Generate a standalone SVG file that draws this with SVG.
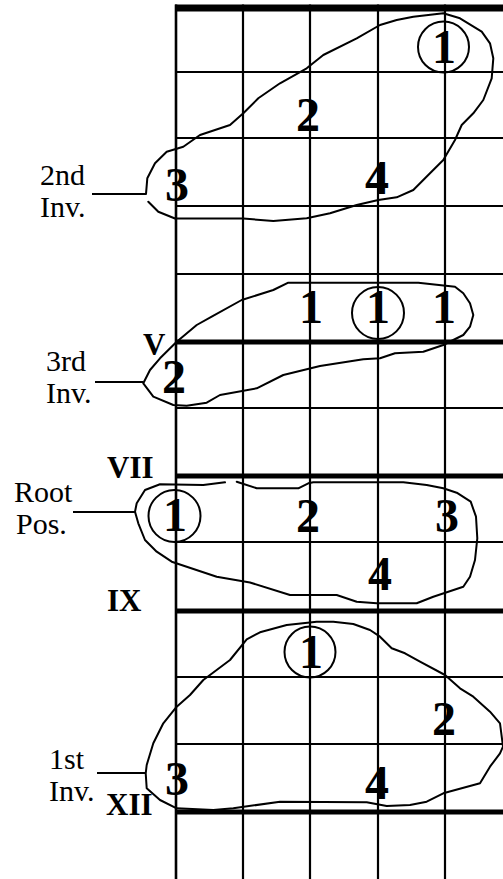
<svg xmlns="http://www.w3.org/2000/svg" width="503" height="879" viewBox="0 0 503 879">
<style>
.str{stroke:#000;stroke-width:2.2}
.fret{stroke:#000;stroke-width:2}
.thick{stroke:#000;stroke-width:5}
.blob{fill:none;stroke:#000;stroke-width:2;stroke-linejoin:round;stroke-linecap:round}
.lead{stroke:#000;stroke-width:2}
.ring{fill:none;stroke:#000;stroke-width:2}
.num{font-family:"Liberation Serif","Times New Roman",serif;font-weight:bold;font-size:48px;text-anchor:middle}
.rom{font-family:"Liberation Serif","Times New Roman",serif;font-weight:bold;font-size:31px}
.lab{font-family:"Liberation Serif","Times New Roman",serif;font-size:30px}
</style>
<rect width="503" height="879" fill="#fff"/>
<g id="fretboard">
<line class="fret" x1="176" y1="72" x2="503" y2="72"/>
<line class="fret" x1="176" y1="138" x2="503" y2="138"/>
<line class="fret" x1="176" y1="206" x2="503" y2="206"/>
<line class="fret" x1="176" y1="274" x2="503" y2="274"/>
<line class="fret" x1="176" y1="408" x2="503" y2="408"/>
<line class="fret" x1="176" y1="542" x2="503" y2="542"/>
<line class="fret" x1="176" y1="677" x2="503" y2="677"/>
<line class="fret" x1="176" y1="744" x2="503" y2="744"/>
<line class="thick" x1="175" y1="8" x2="503" y2="8" style="stroke-width:7"/>
<line class="thick" x1="175" y1="342" x2="503" y2="342"/>
<line class="thick" x1="175" y1="476" x2="503" y2="476"/>
<line class="thick" x1="175" y1="611" x2="503" y2="611"/>
<line class="thick" x1="175" y1="812" x2="503" y2="812"/>
<line class="str" x1="176" y1="4.5" x2="176" y2="879" style="stroke-width:2.6"/>
<line class="str" x1="243" y1="4.5" x2="243" y2="879"/>
<line class="str" x1="310" y1="4.5" x2="310" y2="879"/>
<line class="str" x1="378" y1="4.5" x2="378" y2="879"/>
<line class="str" x1="445" y1="4.5" x2="445" y2="879"/>
</g>
<g id="connectors">
<line class="lead" x1="92" y1="194" x2="146" y2="194"/>
<line class="lead" x1="95" y1="382" x2="143" y2="382"/>
<line class="lead" x1="73" y1="512" x2="135" y2="512"/>
<line class="lead" x1="97" y1="773" x2="146" y2="773"/>
</g>
<g id="second-inversion">
<path class="blob" d="M146,194 L147.3,178.3 L155,163.3 L166.7,151.7 L183.3,146.7 L200,135 L230,125 L243.3,113.3 L258.3,98.3 L280,83.3 L306.7,68.3 L323.3,55 L356.7,38.3 L380,25 L396.7,20 L413.3,16.7 L443.3,13.3 L460,18.3 L481.7,31.7 L490,43.3 L493.3,58.3 L491.7,78.3 L483.3,100 L473.3,113.3 L461.7,125 L455,140 L443.3,160 L430,173.3 L413.3,190 L396.7,197.3 L378.3,200 L356.7,205 L330,213.3 L306.7,218.3 L273.3,221 L243.3,218.5 L175,218.5 L158.3,211.7 L148.3,201.7"/>
<circle class="ring" cx="443.5" cy="47" r="25.5"/>
<text class="num" x="444" y="63">1</text>
<text class="num" x="308" y="131">2</text>
<text class="num" x="177" y="201">3</text>
<text class="num" x="377" y="194">4</text>
<text class="lab" x="40" y="185">2nd</text>
<text class="lab" x="40" y="217">Inv.</text>
</g>
<g id="third-inversion">
<path class="blob" d="M143.3,383.3 L150,370 L160,358.3 L176.7,341.7 L196.7,325 L211.7,316.7 L241.7,300 L273.3,290 L288.3,282.7 L418.3,282.7 L455,286.7 L463.3,293.3 L470,303.3 L473.3,315 L470,326.7 L463.3,335 L453.3,340 L443.3,345 L423.3,351.7 L395,353.3 L380,358.3 L363.3,359.3 L320,366 L283.3,375 L256.7,388.3 L220,395 L206.7,402.7 L186.7,405.7 L173.3,405 L153.3,396.7 Z"/>
<circle class="ring" cx="378" cy="313" r="26"/>
<text class="num" x="311" y="323">1</text>
<text class="num" x="378" y="323">1</text>
<text class="num" x="444" y="323">1</text>
<text class="num" x="174" y="393">2</text>
<text class="rom" x="143" y="355">V</text>
<text class="lab" x="46" y="371">3rd</text>
<text class="lab" x="46" y="403">Inv.</text>
</g>
<g id="root-position">
<path class="blob" d="M225,482.3 L203.3,485 L160,484.3 L145,490 L136.7,503.3 L135,511.7 L138.3,523.3 L145,540 L156.7,551.7 L171.7,561.7 L186.7,566.7 L216.7,576.7 L250,582.5 L290,595 L336.7,595 L356.7,601.7 L376.7,603.3 L416.7,603.3 L433.3,596.7 L463.3,586.7 L470,576.7 L475,560 L477.3,538.3 L476,516.7 L470.7,501.7 L456.7,492.7 L443.3,488.3 L426.7,485 L403.3,482.3 L313.3,482.3 L308.3,483.3 L298.3,488.3 L256.7,488.3 L236.7,481.7"/>
<circle class="ring" cx="174.5" cy="516" r="26"/>
<text class="num" x="175" y="531">1</text>
<text class="num" x="308" y="532">2</text>
<text class="num" x="447" y="532">3</text>
<text class="num" x="380" y="590">4</text>
<text class="rom" x="107" y="478">VII</text>
<text class="rom" x="107" y="611">IX</text>
<text class="lab" x="14" y="502">Root</text>
<text class="lab" x="16" y="534">Pos.</text>
</g>
<g id="first-inversion">
<path class="blob" d="M145.7,773.3 L146.7,765 L153.3,743.3 L163.3,723.3 L176.7,706.7 L190,695 L203.3,680 L230,660 L246.7,639.3 L260,632.3 L286.7,625 L316.7,621.7 L333.3,621.7 L353.3,624 L370,630 L380,636.7 L391.7,648.3 L405,653.3 L420,661.7 L445,675 L460,688.3 L473.3,696.7 L490,711.7 L500,723.3 L503,746.7 L500,753.3 L490,766.7 L480,783.3 L443.3,793.3 L426.7,801.7 L410,805 L386.7,806 L366.7,802.3 L280,801.7 L233.3,808.3 L213.3,810 L176.7,808.3 L160,800 L146.7,788.3 Z"/>
<circle class="ring" cx="310" cy="652" r="25.5"/>
<text class="num" x="311" y="668">1</text>
<text class="num" x="444" y="735">2</text>
<text class="num" x="177" y="795">3</text>
<text class="num" x="377" y="799">4</text>
<text class="rom" x="106" y="815">XII</text>
<text class="lab" x="49" y="769">1st</text>
<text class="lab" x="49" y="801">Inv.</text>
</g>
</svg>
